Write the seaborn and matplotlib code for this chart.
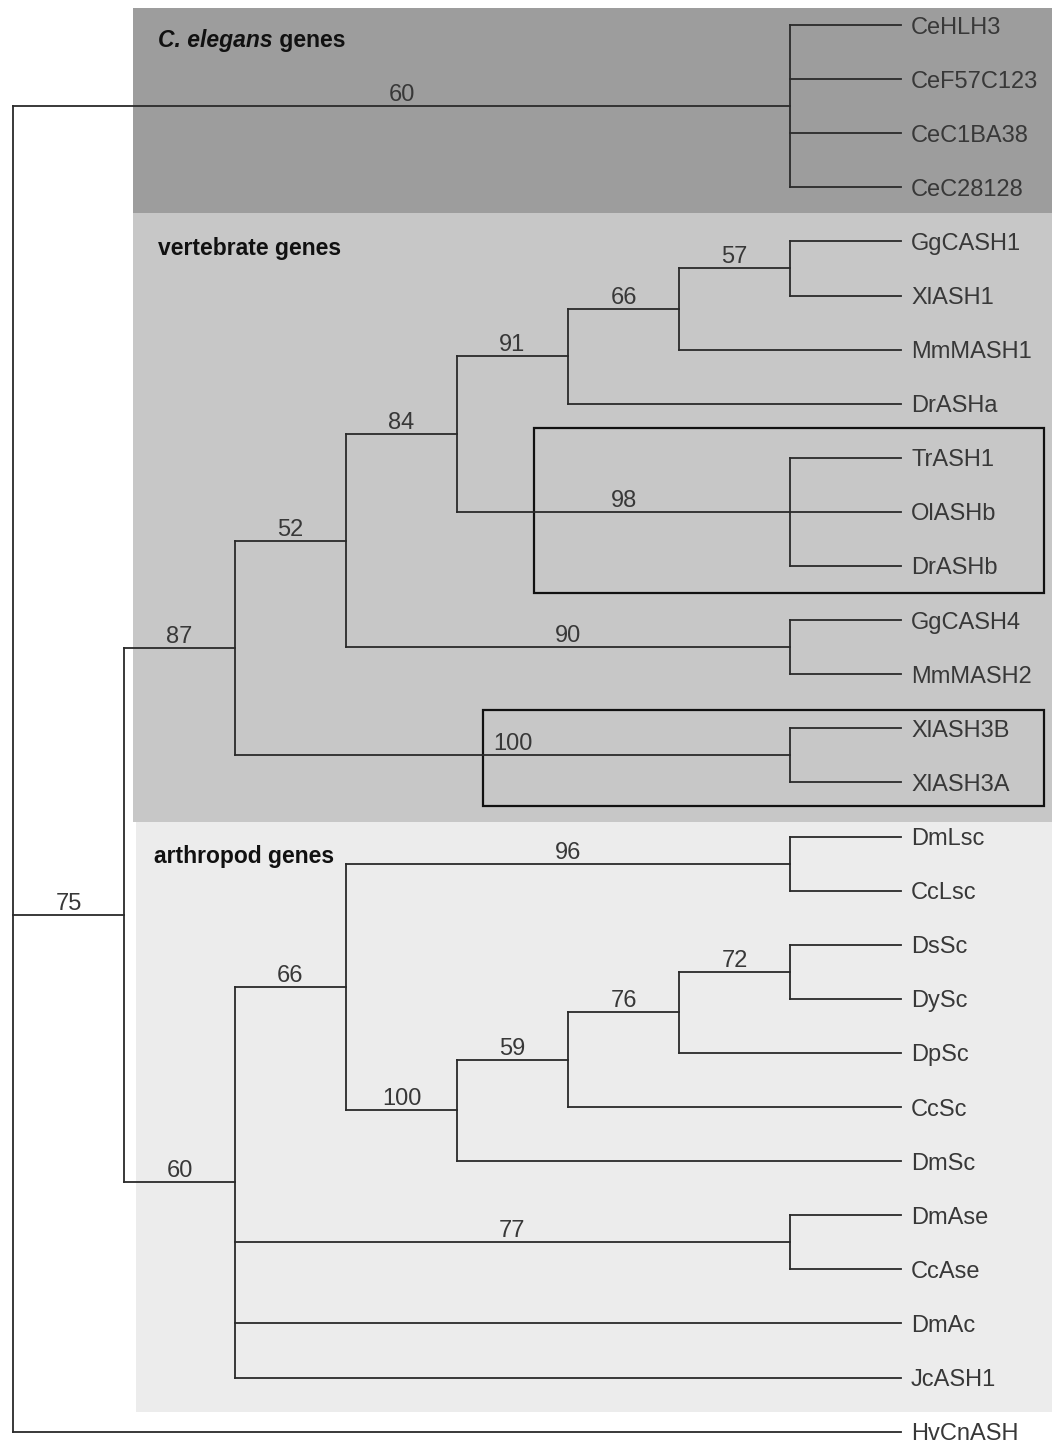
import matplotlib
matplotlib.use('Agg')
import matplotlib.pyplot as plt
from matplotlib.patches import Rectangle
import seaborn as sns
import pandas as pd

# ---- data: tree topology with bootstrap support values ----
# internal node = (support, [children]); leaf = gene name
CE_CLADE = ("60", ["CeHLH3", "CeF57C123", "CeC1BA38", "CeC28128"])
VERT_CLADE = ("87", [
    ("52", [
        ("84", [
            ("91", [
                ("66", [("57", ["GgCASH1", "XlASH1"]), "MmMASH1"]),
                "DrASHa"]),
            ("98", ["TrASH1", "OlASHb", "DrASHb"])]),
        ("90", ["GgCASH4", "MmMASH2"])]),
    ("100", ["XlASH3B", "XlASH3A"])])
ARTH_CLADE = ("60", [
    ("66", [
        ("96", ["DmLsc", "CcLsc"]),
        ("100", [
            ("59", [
                ("76", [("72", ["DsSc", "DySc"]), "DpSc"]),
                "CcSc"]),
            "DmSc"])]),
    ("77", ["DmAse", "CcAse"]),
    "DmAc", "JcASH1"])
ROOT_CHILDREN = [CE_CLADE, ("75", [VERT_CLADE, ARTH_CLADE]), "HvCnASH"]

GROUP_LABELS = ["C. elegans", "vertebrate genes", "arthropod genes"]

# ---- layout constants (pixels) ----
W, H = 1052, 1444
X0, XSTEP = 13, 111
LEAF_LEVEL, CHERRY_LEVEL = 8, 7
Y0, YSTEP = 25, 54.1
LINE_COLOR = "#2a2a2a"
TEXT_COLOR = "#383838"

sns.set_theme(style="white")
plt.rcParams['font.family'] = ['Liberation Sans', 'DejaVu Sans']

segments = []
supports = []
leaves = []
counter = [0]


def is_leaf(n):
    return isinstance(n, str)


def layout(children, depth):
    """Return (x, y) of an internal node after placing its subtree."""
    pos = []
    for ch in children:
        if is_leaf(ch):
            y = Y0 + YSTEP * counter[0]
            counter[0] += 1
            x = X0 + XSTEP * LEAF_LEVEL
            leaves.append((ch, x, y))
            pos.append((x, y, None))
        else:
            sup, sub = ch
            x, y = layout(sub, depth + 1)
            pos.append((x, y, sup))
    ys = [p[1] for p in pos]
    if all(is_leaf(c) for c in children):
        nx = X0 + XSTEP * CHERRY_LEVEL
    else:
        nx = X0 + XSTEP * depth
    ny = (ys[0] + ys[-1]) / 2
    segments.append(((nx, min(ys)), (nx, max(ys))))
    for cx, cy, sup in pos:
        segments.append(((nx, cy), (cx, cy)))
        if sup is not None:
            supports.append((sup, (nx + cx) / 2, cy))
    return nx, ny


layout(ROOT_CHILDREN, 0)

rows = []
for i, (a, b) in enumerate(segments):
    rows.append({"seg": i, "x": a[0], "y": a[1]})
    rows.append({"seg": i, "x": b[0], "y": b[1]})
df = pd.DataFrame(rows)

fig = plt.figure(figsize=(W / 100, H / 100), dpi=100)
ax = fig.add_axes([0, 0, 1, 1])
fig.patch.set_facecolor("white")
ax.set_facecolor("white")

# shaded gene-group bands
bands = [(133, 8, 213, "#9d9d9d"), (133, 213, 822, "#c7c7c7"),
         (136, 822, 1412, "#ececec")]
for x0, y0, y1, c in bands:
    ax.add_patch(Rectangle((x0, y0), W - x0, y1 - y0, facecolor=c,
                           edgecolor="none", zorder=0))

# boxes around highlighted clades
for x0, y0, x1, y1 in [(534, 428, 1044, 593), (483, 710, 1044, 806)]:
    ax.add_patch(Rectangle((x0, y0), x1 - x0, y1 - y0, facecolor="none",
                           edgecolor="#111111", linewidth=1.6, zorder=2))

sns.lineplot(data=df, x="x", y="y", units="seg", estimator=None, sort=False,
             color=LINE_COLOR, linewidth=1.3, legend=False, ax=ax,
             solid_capstyle="projecting", zorder=3)

for name, x, y in leaves:
    ax.text(x + 10, y + 8.5, name, ha="left", va="baseline", fontsize=17,
            color=TEXT_COLOR, zorder=4)

for sup, x, y in supports:
    ax.text(x, y - 5, sup, ha="center", va="baseline", fontsize=17,
            color=TEXT_COLOR, zorder=4)

# group labels
bold = dict(fontsize=16.5, fontweight="bold", color="#111111")
t = ax.text(158, 52, GROUP_LABELS[0], fontstyle="italic", ha="left",
            va="bottom", **bold)
ax.annotate(" genes", xy=(1, 0), xycoords=t, ha="left", va="bottom", **bold)
ax.text(158, 248, GROUP_LABELS[1], ha="left", va="center", **bold)
ax.text(154, 857, GROUP_LABELS[2], ha="left", va="center", **bold)

ax.set_xlim(0, W)
ax.set_ylim(H, 0)
ax.axis("off")

fig.savefig("out.png", dpi=100, facecolor="white")
